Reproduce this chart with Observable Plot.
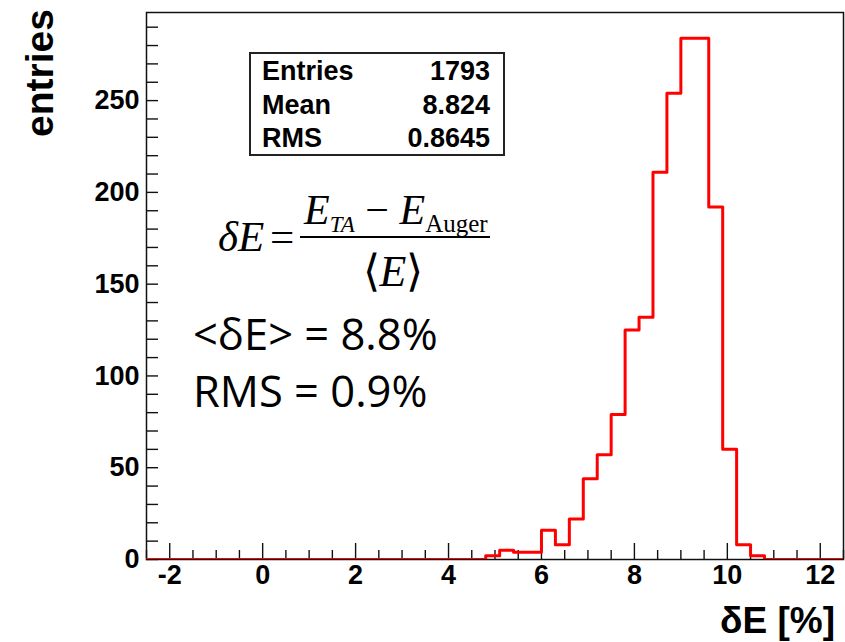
<!DOCTYPE html>
<html><head><meta charset="utf-8">
<script src="https://cdn.jsdelivr.net/npm/d3@7"></script>
<script src="https://cdn.jsdelivr.net/npm/@observablehq/plot@0.6"></script>
<style>body{margin:0;background:#fff}</style>
</head><body><div id="chart"></div>
<script>
// histogram bins (lower edge, width 0.3) and counts
const binLowEdges = [4.8, 5.1, 5.4, 5.7, 6.0, 6.3, 6.6, 6.9, 7.2, 7.5, 7.8, 8.1, 8.4, 8.7, 9.0, 9.3, 9.6, 9.9, 10.2, 10.5];
const binCounts   = [2,   5,   4,   4,   16,  8,   22,  44,  57,  79,  125, 132, 211, 254, 284, 284, 192, 60,  8,   2];
const binWidth = 0.3;
const xDomain = [-2.5, 12.5];
const yDomain = [0, 298];
const xMajorTicks = [-2, 0, 2, 4, 6, 8, 10, 12];
const xMinorTicks = [-2.5, -1.5, -1, -0.5, 0.5, 1, 1.5, 2.5, 3, 3.5, 4.5, 5, 5.5, 6.5, 7, 7.5, 8.5, 9, 9.5, 10.5, 11, 11.5, 12.5];
const yMajorTicks = [0, 50, 100, 150, 200, 250];
const yMinorTicks = [10, 20, 30, 40, 60, 70, 80, 90, 110, 120, 130, 140, 160, 170, 180, 190, 210, 220, 230, 240, 260, 270, 280, 290];
const statsLabels = ["Entries", "Mean", "RMS"];
const statsValues = ["1793", "8.824", "0.8645"];
const summaryLines = ["<δE> = 8.8%", "RMS = 0.9%"];

const W = 845, H = 642, mL = 146, mR = 2, mT = 12, mB = 83;
const frameW = W - mL - mR, frameH = H - mT - mB;

// outline points of the histogram (step-after)
const lastEdge = binLowEdges[binLowEdges.length - 1] + binWidth;
const outline = [{x: xDomain[0], y: 0}]
  .concat(binLowEdges.map((e, i) => ({x: e, y: binCounts[i]})))
  .concat([{x: lastEdge, y: 0}, {x: xDomain[1], y: 0}]);

const font = "Liberation Sans, Arial, Helvetica, sans-serif";

const plot = Plot.plot({
  width: W, height: H,
  marginLeft: mL, marginRight: mR, marginTop: mT, marginBottom: mB,
  style: {fontFamily: font, background: "white", overflow: "visible"},
  x: {domain: xDomain},
  y: {domain: yDomain},
  marks: [
    Plot.tickX(xMajorTicks, {x: d => d, stroke: "#111", strokeWidth: 1.4, insetTop: frameH - 16}),
    Plot.tickX(xMinorTicks, {x: d => d, stroke: "#111", strokeWidth: 1.4, insetTop: frameH - 9}),
    Plot.tickY(yMajorTicks, {y: d => d, stroke: "#111", strokeWidth: 1.4, insetRight: frameW - 12}),
    Plot.tickY(yMinorTicks, {y: d => d, stroke: "#111", strokeWidth: 1.4, insetRight: frameW - 12}),
    Plot.frame({stroke: "#111", strokeWidth: 1.5}),
    Plot.line(outline, {x: "x", y: "y", curve: "step-after", stroke: "#ff0000", strokeWidth: 3, clip: true}),
    Plot.axisX(xMajorTicks, {tickSize: 0, tickPadding: 5, fontSize: 27, fontWeight: "bold", fill: "black", label: null, tickFormat: d => d < 0 ? "-" + Math.abs(d) : String(d)}),
    Plot.axisY(yMajorTicks, {tickSize: 0, tickPadding: 7, fontSize: 27, fontWeight: "bold", fill: "black", label: null})
  ]
});

document.getElementById("chart").appendChild(plot);
const svg = d3.select(plot);
const ann = svg.append("g").attr("text-anchor", "start").attr("fill", "black");

// y-axis title
ann.append("text").attr("transform", "translate(53,9) rotate(-90)")
  .attr("text-anchor", "end").attr("font-family", font).attr("font-weight", "bold")
  .attr("font-size", 39).text("entries");
// x-axis title
ann.append("text").attr("x", 835).attr("y", 633)
  .attr("text-anchor", "end").attr("font-family", font).attr("font-weight", "bold")
  .attr("font-size", 37).text("δE [%]");

// stats box
ann.append("rect").attr("x", 250).attr("y", 53).attr("width", 254).attr("height", 102)
  .attr("fill", "white").attr("stroke", "#222").attr("stroke-width", 2);
statsLabels.forEach((s, i) => {
  ann.append("text").attr("x", 262).attr("y", 80 + i * 33.5).attr("text-anchor", "start").attr("font-family", font)
    .attr("font-weight", "bold").attr("font-size", 27).text(s);
  ann.append("text").attr("x", 490).attr("y", 80 + i * 33.5).attr("text-anchor", "end").attr("font-family", font)
    .attr("font-weight", "bold").attr("font-size", 27).text(statsValues[i]);
});

// formula
const serif = "Liberation Serif, Times New Roman, serif";
ann.append("text").attr("x", 218).attr("y", 251).attr("text-anchor", "start").attr("font-family", serif).attr("font-style", "italic")
  .attr("font-size", 43).text("δE");
ann.append("text").attr("x", 270).attr("y", 251).attr("text-anchor", "start").attr("font-family", serif)
  .attr("font-size", 43).text("=");
const num = ann.append("text").attr("x", 304).attr("y", 224).attr("text-anchor", "start").attr("font-family", serif)
  .attr("font-size", 42);
num.append("tspan").attr("font-style", "italic").text("E");
num.append("tspan").attr("font-style", "italic").attr("font-size", 23).attr("dy", 8).text("TA");
num.append("tspan").attr("dy", -8).text(" − ");
num.append("tspan").attr("font-style", "italic").text("E");
num.append("tspan").attr("font-size", 25).attr("dy", 8).text("Auger");
ann.append("line").attr("x1", 300).attr("x2", 490).attr("y1", 237).attr("y2", 237)
  .attr("stroke", "black").attr("stroke-width", 2);
const den = ann.append("text").attr("x", 393).attr("y", 286).attr("text-anchor", "middle")
  .attr("font-family", serif).attr("font-size", 44);
den.append("tspan").text("⟨");
den.append("tspan").attr("font-style", "italic").text("E");
den.append("tspan").text("⟩");

// summary lines
summaryLines.forEach((s, i) => {
  ann.append("text").attr("x", 193).attr("y", 350 + i * 57).attr("text-anchor", "start").attr("font-family", "Open Sans, Noto Sans, sans-serif")
    .attr("font-size", 43.5).text(s);
});
</script>
</body></html>
